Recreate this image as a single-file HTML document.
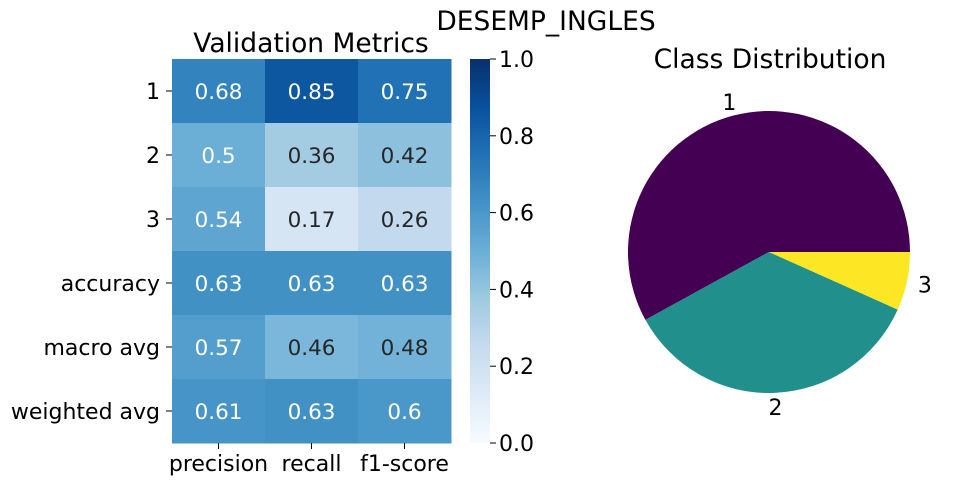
<!DOCTYPE html>
<html><head><meta charset="utf-8">
<style>body{margin:0;background:#fff}svg{display:block;font-family:"DejaVu Sans","Liberation Sans",sans-serif}</style>
</head><body>
<svg id="c" width="955" height="484" viewBox="0 0 955 484"></svg>
<script>
const rowLabels=["1","2","3","accuracy","macro avg","weighted avg"];
const colLabels=["precision","recall","f1-score"];
const cellValues=[[0.68,0.85,0.75],[0.5,0.36,0.42],[0.54,0.17,0.26],[0.63,0.63,0.63],[0.57,0.46,0.48],[0.61,0.63,0.6]];
const cellText=[["0.68","0.85","0.75"],["0.5","0.36","0.42"],["0.54","0.17","0.26"],["0.63","0.63","0.63"],["0.57","0.46","0.48"],["0.61","0.63","0.6"]];
const cbTicks=[0,0.2,0.4,0.6,0.8,1.0];
const pieLabels=["1","2","3"];
const pieValues=[0.58,0.353,0.067];
const pieColors=["#440154","#21908d","#fde725"];

const NS="http://www.w3.org/2000/svg",svg=document.getElementById('c');
function mk(t,a,p){const e=document.createElementNS(NS,t);for(const k in a)e.setAttribute(k,a[k]);(p||svg).appendChild(e);return e;}
const stops=["#f7fbff","#deebf7","#c6dbef","#9ecae1","#6baed6","#4292c6","#2171b5","#08519c","#08306b"];
function hex(h){return[1,3,5].map(i=>parseInt(h.substr(i,2),16));}
function blues(v){v=Math.max(0,Math.min(1,v));const f=v*8,i=Math.min(7,Math.floor(f)),t=f-i;const a=hex(stops[i]),b=hex(stops[i+1]);return`rgb(${a.map((x,j)=>Math.round(x+(b[j]-x)*t)).join(',')})`;}
const hx0=172,hy0=59,cw=93,rh=64;
const xs=j=>hx0+j*cw, ys=i=>hy0+i*rh;
let t=mk('text',{x:546,y:30,'font-size':26.5,'text-anchor':'middle',fill:'#000'});t.textContent='DESEMP_INGLES';

t=mk('text',{x:311,y:52,'font-size':26.5,'text-anchor':'middle'});t.textContent='Validation Metrics';

cellValues.forEach((row,i)=>row.forEach((v,j)=>{
 const r=mk('rect',{x:xs(j),y:ys(i),width:cw+0.5,height:rh+0.5,fill:blues(v)});
 
 const tx=mk('text',{x:xs(j)+cw/2,y:ys(i)+rh/2+8,'font-size':21.5,'text-anchor':'middle',fill:v>=0.5?'#fff':'#262626'});
 tx.textContent=cellText[i][j];
 
}));
rowLabels.forEach((l,i)=>{const tx=mk('text',{x:160,y:ys(i)+rh/2+8,'font-size':22,'text-anchor':'end'});tx.textContent=l;
 
 mk('line',{x1:166,x2:hx0,y1:ys(i)+rh/2,y2:ys(i)+rh/2,stroke:'#000'});});
colLabels.forEach((l,j)=>{const tx=mk('text',{x:xs(j)+cw/2,y:471,'font-size':22,'text-anchor':'middle'});tx.textContent=l;
 
 mk('line',{x1:xs(j)+cw/2,x2:xs(j)+cw/2,y1:443,y2:449,stroke:'#000'});});
const cbx=470,cbw=20,cby0=59,cbh=384;
const defs=mk('defs',{});const g=mk('linearGradient',{id:'bg',x1:0,y1:1,x2:0,y2:0},defs);
stops.forEach((s,k)=>mk('stop',{offset:k/8,'stop-color':s},g));
const cb=mk('rect',{x:cbx,y:cby0,width:cbw,height:cbh,fill:'url(#bg)'});

const cy=v=>cby0+cbh*(1-v);
cbTicks.forEach(v=>{mk('line',{x1:cbx+cbw,x2:cbx+cbw+6,y1:cy(v),y2:cy(v),stroke:'#000'});
 const tx=mk('text',{x:cbx+cbw+9,y:cy(v)+8,'font-size':22});tx.textContent=v.toFixed(1);
 });
t=mk('text',{x:770,y:68,'font-size':26.5,'text-anchor':'middle'});t.textContent='Class Distribution';

const pcx=769,pcy=252,R=141;const tot=pieValues.reduce((a,b)=>a+b,0);let a0=0;
pieValues.forEach((v,k)=>{const a1=a0+v/tot*2*Math.PI;
 const p=(a)=>[pcx+R*Math.cos(a),pcy-R*Math.sin(a)];const [x0,y0]=p(a0),[x1,y1]=p(a1);
 const s=mk('path',{d:`M${pcx},${pcy}L${x0},${y0}A${R},${R} 0 ${a1-a0>Math.PI?1:0} 0 ${x1},${y1}Z`,fill:pieColors[k]});
 
 const am=(a0+a1)/2;const tx=mk('text',{x:pcx+R*1.13*Math.cos(am),y:pcy-R*1.1*Math.sin(am)+8,'font-size':22,'text-anchor':'middle'});
 tx.textContent=pieLabels[k];
 a0=a1;});
</script>
</body></html>
